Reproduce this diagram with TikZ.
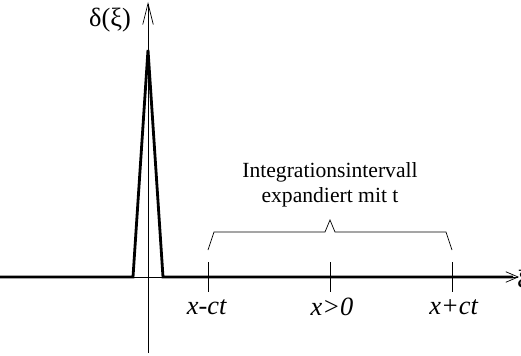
\documentclass[tikz,border=0pt]{standalone}
\usepackage{fontspec}
\setmainfont{Liberation Serif}
\usetikzlibrary{arrows.meta}
\begin{document}
\begin{tikzpicture}[every node/.style={font=\fontsize{12.3}{14}\selectfont}]
\useasboundingbox (-2.96,-1.56) rectangle (7.46,5.54);
% axes
\draw[thin,-{Straight Barb[length=12pt,width=6pt]}] (0,-1.52) -- (0,5.5);
\draw[thin,-{Straight Barb[length=7pt,width=6pt]}] (-2.96,0) -- (7.42,0);
\node[anchor=west,font=\fontsize{15}{17}\selectfont] (xi) at (7.26,-0.1) {ξ};
\node[font=\fontsize{15}{17}\selectfont] (delta) at (-0.76,5.14) {δ(ξ)};
% delta peak
\draw[line width=1.6pt,line join=miter] (-2.96,0) -- (-0.3,0) -- (0,4.54) -- (0.3,0) -- (7.3,0);
% ticks
\foreach \x in {1.2,3.64,6.08} \draw[thin] (\x,0.3)--(\x,-0.3);
\node[font=\fontsize{15}{17}\selectfont] (lo) at (1.18,-0.6) {\textit{x-ct}};
\node[font=\fontsize{15}{17}\selectfont] (mid) at (3.68,-0.6) {\textit{x>0}};
\node[font=\fontsize{15}{17}\selectfont] (hi) at (6.12,-0.6) {\textit{x+ct}};
% brace
\draw[thin] (1.2,0.54) -- (1.32,0.9) -- (3.54,0.9) -- (3.64,1.14) -- (3.74,0.9) -- (5.96,0.9) -- (6.08,0.54);
\node[align=center] (intv) at (3.64,1.84) {Integrationsintervall\\expandiert mit t};
\end{tikzpicture}
\end{document}
